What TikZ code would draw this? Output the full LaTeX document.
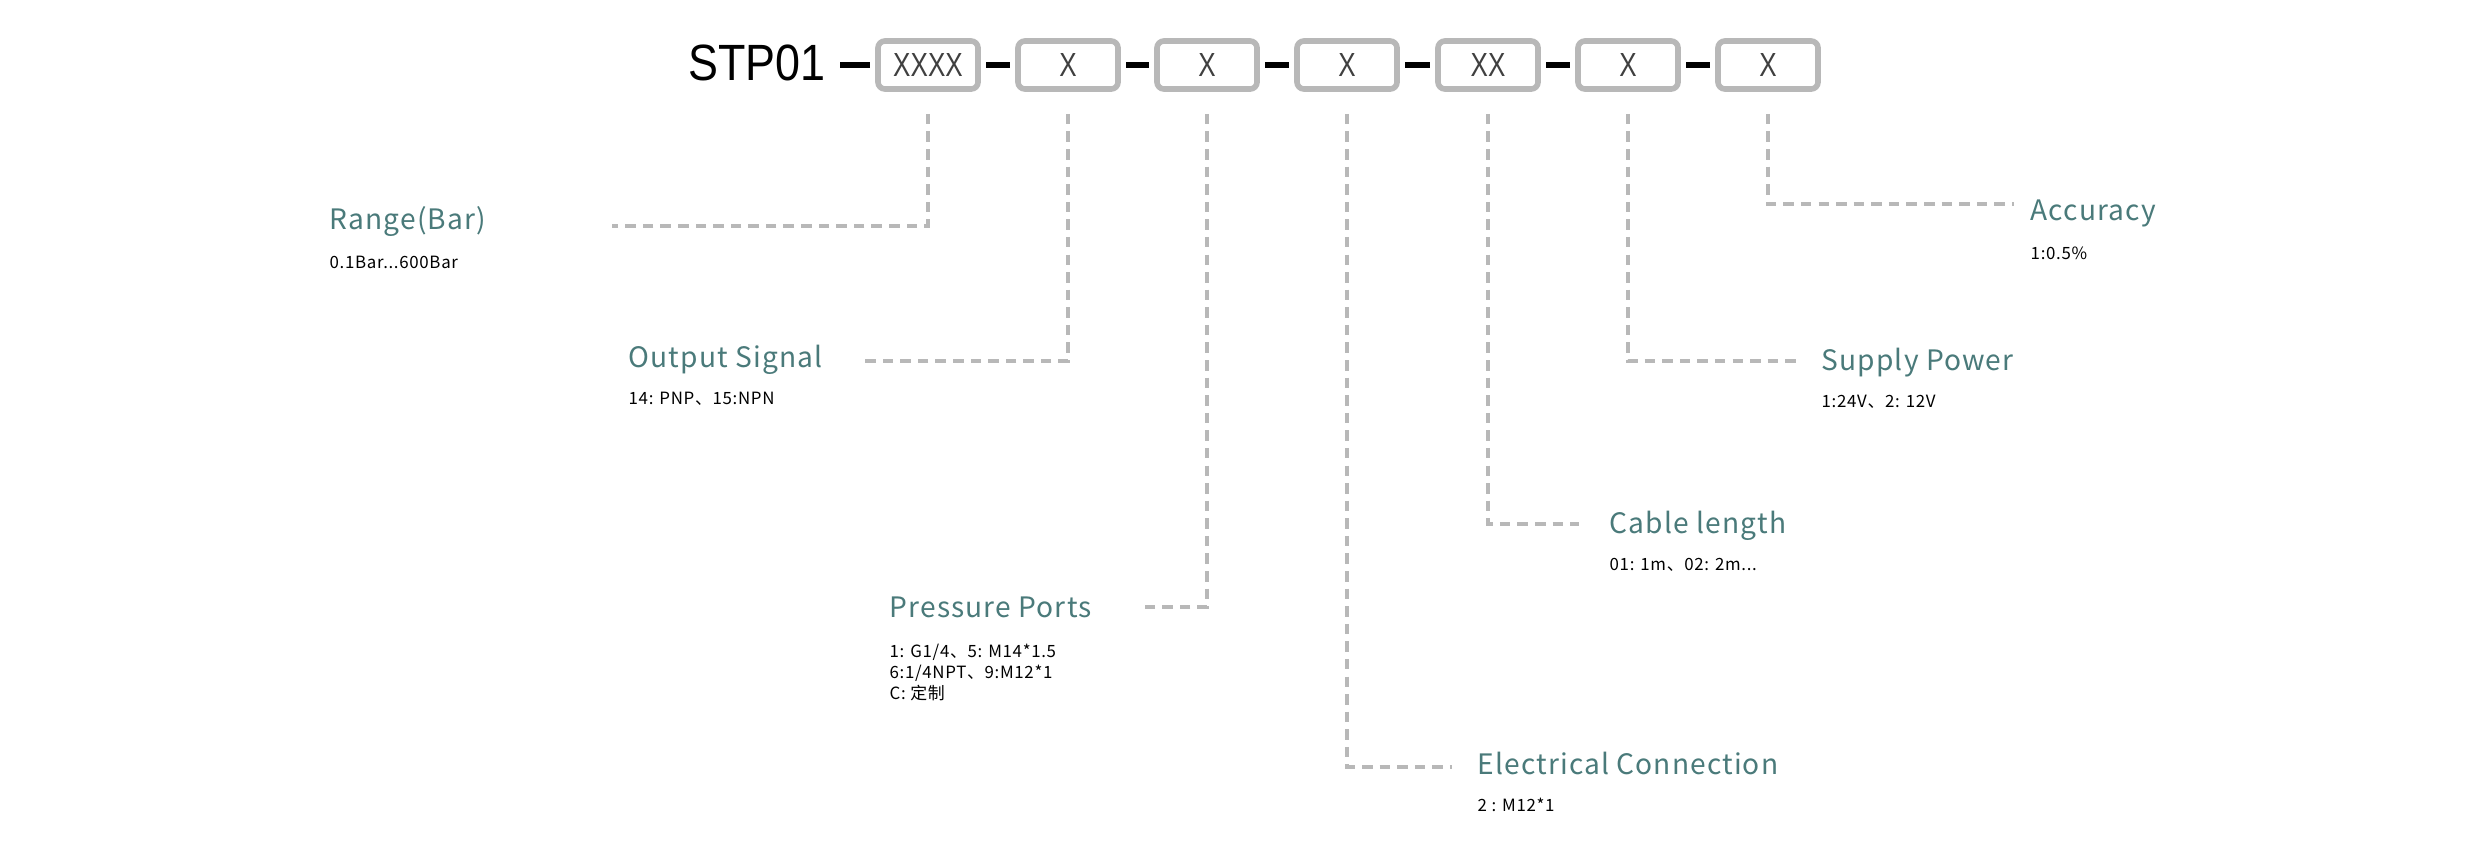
\documentclass[tikz,border=0pt]{standalone}
\usepackage{fontspec}
\setmainfont{Liberation Sans}
\newfontfamily\narrow[FakeStretch=0.78]{Liberation Sans}
\newfontfamily\wide[FakeStretch=0.88]{Liberation Sans}
\newfontfamily\cjk[LetterSpace=4]{Noto Sans CJK SC}
\newfontfamily\cjkinfo[LetterSpace=4]{Noto Sans CJK SC}
\definecolor{teal}{HTML}{4A7A7A}
\definecolor{lgray}{HTML}{B8B8B8}
\begin{document}
\begin{tikzpicture}[x=0.01cm,y=-0.01cm,
	box/.style={draw=lgray,line width=1.6pt,rounded corners=2pt,minimum width=1cm,minimum height=0.48cm,inner sep=0pt,font=\narrow\fontsize{9.5}{9.5}\selectfont,text=black!75},
	link/.style={line width=1.6pt,shorten <=1.5pt,shorten >=1.5pt},
	lead/.style={draw=lgray,line width=1.3pt,dash pattern=on 3pt off 2pt},
	title/.style={anchor=base west,inner sep=0pt,text=teal,font=\cjk\fontsize{8}{8}\selectfont},
	info/.style={anchor=base west,inner sep=0pt,align=left,font=\cjkinfo\fontsize{4.8}{6}\selectfont}]
\useasboundingbox (0,0) rectangle (2481,859);
\node[anchor=base east,inner sep=0pt,font=\wide\fontsize{14.5}{14.5}\selectfont] (stp) at (826,80) {STP01};
\foreach \name/\x/\txt in {b1/928/XXXX,b2/1068/X,b3/1207/X,b4/1347/X,b5/1488/XX,b6/1628/X,b7/1768/X}
	\node[box] (\name) at (\x,65) {\txt};
\draw[link,shorten <=4pt] (stp.east|-b1) -- (b1.west);
\foreach \a/\b in {b1/b2,b2/b3,b3/b4,b4/b5,b5/b6,b6/b7}
	\draw[link] (\a.east) -- (\b.west);

% left side
\coordinate (e1) at (612,226);
\coordinate (e2) at (864,361);
\coordinate (e3) at (1139,607);
\draw[lead] (b1.south)++(0,22) |- (e1);
\draw[lead] (b2.south)++(0,22) |- (e2);
\draw[lead] (b3.south)++(0,22) |- (e3);
\node[title] (t1) at (329,229) {Range(Bar)};
\node[info] (i1) at (329,268) {0.1Bar...600Bar};
\node[title] (t2) at (628,367) {Output Signal};
\node[info] (i2) at (628,404) {14: PNP、15:NPN};
\node[title] (t3) at (889,617) {Pressure Ports};
\node[info,anchor=north west] (i3) at (889,643) {1: G1/4、5: M14*1.5\\6:1/4NPT、9:M12*1\\C: 定制};

% right side
\coordinate (e4) at (1452,767);
\coordinate (e5) at (1579,524);
\coordinate (e6) at (1800,361);
\coordinate (e7) at (2014,204);
\draw[lead] (b4.south)++(0,22) |- (e4);
\draw[lead] (b5.south)++(0,22) |- (e5);
\draw[lead] (b6.south)++(0,22) |- (e6);
\draw[lead] (b7.south)++(0,22) |- (e7);
\node[title] (t4) at (1477,774) {Electrical Connection};
\node[info] (i4) at (1477,811) {2 : M12*1};
\node[title] (t5) at (1609,533) {Cable length};
\node[info] (i5) at (1609,570) {01: 1m、02: 2m...};
\node[title] (t6) at (1821,370) {Supply Power};
\node[info] (i6) at (1821,407) {1:24V、2: 12V};
\node[title] (t7) at (2030,220) {Accuracy};
\node[info] (i7) at (2030,259) {1:0.5\%};
\end{tikzpicture}
\end{document}
